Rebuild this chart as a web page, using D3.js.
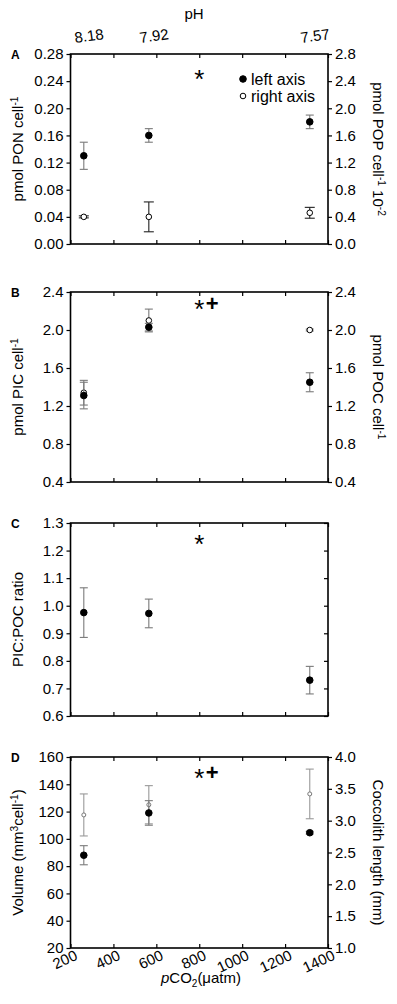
<!DOCTYPE html>
<html><head><meta charset="utf-8">
<script src="https://cdn.jsdelivr.net/npm/d3@7"></script>
<style>
html,body{margin:0;padding:0;background:#fff;}
svg{display:block;font-family:"Liberation Sans",Arial,sans-serif;}
</style></head>
<body>
<script>
// ---- data ----
const pco2 = [262, 565, 1315];
const phLabels = ["8.18", "7.92", "7.57"];
const xTicks = [200, 400, 600, 800, 1000, 1200, 1400];

const ponMean = [0.13, 0.16, 0.18];
const ponErr = [0.02, 0.01, 0.01];
const popMean = [0.40, 0.40, 0.46];
const popErr = [0.015, 0.22, 0.08];

const picMean = [1.31, 2.03, 1.45];
const picErr = [0.14, 0.04, 0.10];
const pocMean = [1.34, 2.10, 2.00];
const pocErr = [0.13, 0.12, 0.01];

const ratioMean = [0.975, 0.972, 0.73];
const ratioErr = [0.09, 0.052, 0.05];

const volumeMean = [88, 119, 104.5];
const volumeErr = [7, 9, 1];
const coccoMean = [3.09, 3.25, 3.42];
const coccoErr = [0.33, 0.30, 0.39];

const ticksA_L = [0, 0.04, 0.08, 0.12, 0.16, 0.20, 0.24, 0.28];
const ticksA_R = [0, 0.4, 0.8, 1.2, 1.6, 2.0, 2.4, 2.8];
const ticksB = [0.4, 0.8, 1.2, 1.6, 2.0, 2.4];
const ticksC = [0.6, 0.7, 0.8, 0.9, 1.0, 1.1, 1.2, 1.3];
const ticksD_L = [20, 40, 60, 80, 100, 120, 140, 160];
const ticksD_R = [1.0, 1.5, 2.0, 2.5, 3.0, 3.5, 4.0];

// ---- layout ----
const W = 397, H = 1004;
const X0 = 70.5, X1 = 328;
const svg = d3.select("body").append("svg").attr("width", W).attr("height", H);
const x = d3.scaleLinear().domain([200, 1400]).range([X0, X1]);

const panels = [
  {letter: "A", top: 54, bottom: 244, mark: ["*"], markOff: 19,
   left: {domain: [0, 0.28], ticks: ticksA_L, fmt: d3.format(".2f"), label: [["pmol PON cell", 0], ["-1", 1]]},
   right: {domain: [0, 2.8], ticks: ticksA_R, fmt: d3.format(".1f"), label: [["pmol POP cell", 0], ["-1", 1], [" 10", 0], ["-2", 1]]},
   series: [
     {mean: popMean, err: popErr, axis: "right", open: true, r: 2.8, errColor: "#222", cap: 5, stroke: "#000"},
     {mean: ponMean, err: ponErr, axis: "left", open: false, r: 3.3, errColor: "#7a7a7a", cap: 4}
   ]},
  {letter: "B", top: 292, bottom: 482, mark: ["*", "+"], markOff: 11,
   left: {domain: [0.4, 2.4], ticks: ticksB, fmt: d3.format(".1f"), label: [["pmol PIC cell", 0], ["-1", 1]]},
   right: {domain: [0.4, 2.4], ticks: ticksB, fmt: d3.format(".1f"), label: [["pmol POC cell", 0], ["-1", 1]]},
   series: [
     {mean: pocMean, err: pocErr, axis: "right", open: true, r: 2.8, errColor: "#7a7a7a", cap: 4, stroke: "#000"},
     {mean: picMean, err: picErr, axis: "left", open: false, r: 3.3, errColor: "#7a7a7a", cap: 4}
   ]},
  {letter: "C", top: 523, bottom: 716, mark: ["*"], markOff: 15,
   left: {domain: [0.6, 1.3], ticks: ticksC, fmt: d3.format(".1f"), label: [["PIC:POC ratio", 0]]},
   right: null,
   series: [
     {mean: ratioMean, err: ratioErr, axis: "left", open: false, r: 3.3, errColor: "#7a7a7a", cap: 4}
   ]},
  {letter: "D", top: 757, bottom: 948, mark: ["*", "+"], markOff: 15, bottomAxis: true,
   left: {domain: [20, 160], ticks: ticksD_L, fmt: d3.format("d"), label: [["Volume (mm", 0], ["3", 1], ["cell", 0], ["-1", 1], [")", 0]]},
   right: {domain: [1.0, 4.0], ticks: ticksD_R, fmt: d3.format(".1f"), label: [["Coccolith length (mm)", 0]]},
   series: [
     {mean: coccoMean, err: coccoErr, axis: "right", open: true, r: 2.0, errColor: "#999", cap: 4, stroke: "#777"},
     {mean: volumeMean, err: volumeErr, axis: "left", open: false, r: 3.3, errColor: "#7a7a7a", cap: 4}
   ]}
];

function addLabel(t, parts, size) {
  parts.forEach(([s, sup]) => {
    t.append("tspan").text(s)
      .attr("font-size", sup ? size * 0.68 : size)
      .attr("baseline-shift", sup ? "super" : null);
  });
}

panels.forEach(p => {
  const g = svg.append("g");
  const yL = d3.scaleLinear().domain(p.left.domain).range([p.bottom, p.top]);
  const yR = p.right ? d3.scaleLinear().domain(p.right.domain).range([p.bottom, p.top]) : null;

  g.append("g").attr("transform", `translate(${X0},0)`)
    .call(d3.axisLeft(yL).tickValues(p.left.ticks).tickFormat(p.left.fmt).tickSize(4).tickPadding(3));
  if (yR) {
    g.append("g").attr("transform", `translate(${X1},0)`)
      .call(d3.axisRight(yR).tickValues(p.right.ticks).tickFormat(p.right.fmt).tickSize(4).tickPadding(3));
  } else {
    g.append("g").attr("transform", `translate(${X1},0)`)
      .call(d3.axisLeft(yL).tickValues(p.left.ticks).tickFormat("").tickSize(4));
  }
  g.append("g").attr("transform", `translate(0,${p.bottom})`)
    .call(d3.axisTop(x).tickValues(xTicks).tickFormat("").tickSize(4));
  g.append("g").attr("transform", `translate(0,${p.top})`)
    .call(d3.axisBottom(x).tickValues(xTicks).tickFormat("").tickSize(4));

  g.selectAll(".domain").remove();
  g.selectAll(".tick line").attr("stroke", "#000").attr("stroke-width", 1.2);
  g.selectAll(".tick text").attr("font-size", 15).attr("fill", "#000")
    .attr("font-family", "'Liberation Sans',Arial,sans-serif");

  g.append("rect").attr("x", X0).attr("y", p.top).attr("width", X1 - X0).attr("height", p.bottom - p.top)
    .attr("fill", "none").attr("stroke", "#000").attr("stroke-width", 1.6);

  g.append("text").attr("x", 11).attr("y", p.top + 5).attr("font-size", 12).attr("font-weight", "bold").text(p.letter);

  const cy = (p.top + p.bottom) / 2;
  const tl = g.append("text").attr("text-anchor", "middle")
    .attr("transform", `translate(23,${cy}) rotate(-90)`);
  addLabel(tl, p.left.label, 15);
  if (p.right) {
    const tr = g.append("text").attr("text-anchor", "middle")
      .attr("transform", `translate(373,${cy}) rotate(90)`);
    addLabel(tr, p.right.label, 15);
  }

  const mx = x(800);
  const mc = p.top + p.markOff;
  g.append("text").attr("x", mx).attr("y", mc + 15).attr("text-anchor", "middle")
    .attr("font-size", 26).text(p.mark[0]);
  if (p.mark.length > 1) {
    g.append("text").attr("x", mx + 13).attr("y", mc + 7.5).attr("text-anchor", "middle")
      .attr("font-size", 22).attr("font-weight", "bold").text(p.mark[1]);
  }

  p.series.forEach(s => {
    const y = s.axis === "left" ? yL : yR;
    const pts = pco2.map((c, i) => ({x: x(c), m: s.mean[i], e: s.err[i]}));
    const eg = g.append("g").attr("stroke", s.errColor).attr("stroke-width", 1.1);
    eg.selectAll("line.v").data(pts).join("line")
      .attr("x1", d => d.x).attr("x2", d => d.x)
      .attr("y1", d => y(d.m - d.e)).attr("y2", d => y(d.m + d.e));
    eg.selectAll("line.t").data(pts).join("line")
      .attr("x1", d => d.x - s.cap).attr("x2", d => d.x + s.cap)
      .attr("y1", d => y(d.m + d.e)).attr("y2", d => y(d.m + d.e));
    eg.selectAll("line.b").data(pts).join("line")
      .attr("x1", d => d.x - s.cap).attr("x2", d => d.x + s.cap)
      .attr("y1", d => y(d.m - d.e)).attr("y2", d => y(d.m - d.e));
    g.append("g").selectAll("circle").data(pts).join("circle")
      .attr("cx", d => d.x).attr("cy", d => y(d.m)).attr("r", s.r)
      .attr("fill", s.open ? "#fff" : "#000")
      .attr("stroke", s.open ? s.stroke : "#000").attr("stroke-width", 1);
  });

  if (p.letter === "A") {
    const lg = g.append("g");
    lg.append("circle").attr("cx", 243).attr("cy", 79).attr("r", 3.3).attr("fill", "#000").attr("stroke", "#000");
    lg.append("text").attr("x", 251).attr("y", 84.5).attr("font-size", 16).text("left axis");
    lg.append("circle").attr("cx", 243).attr("cy", 96).attr("r", 2.8).attr("fill", "#fff").attr("stroke", "#000");
    lg.append("text").attr("x", 251).attr("y", 101.5).attr("font-size", 16).text("right axis");

    svg.append("text").attr("x", 194).attr("y", 19).attr("text-anchor", "middle").attr("font-size", 15).text("pH");
    svg.append("g").selectAll("text").data(pco2).join("text")
      .attr("transform", (d) => `translate(${x(d) + 6},${41}) rotate(-8)`)
      .attr("text-anchor", "middle").attr("font-size", 15)
      .text((d, i) => phLabels[i]);
  }

  if (p.bottomAxis) {
    svg.append("g").selectAll("text").data(xTicks).join("text")
      .attr("transform", d => `translate(${x(d) + 8},${p.bottom + 11}) rotate(-25)`)
      .attr("text-anchor", "end").attr("font-size", 15).text(d => d);
    const t = svg.append("text").attr("x", 201).attr("y", 983).attr("text-anchor", "middle").attr("font-size", 15);
    t.append("tspan").attr("font-style", "italic").text("p");
    t.append("tspan").text("CO");
    t.append("tspan").attr("font-size", 10).attr("dy", 4).text("2");
    t.append("tspan").attr("dy", -4).text("(\u03bcatm)");
  }
});
</script>
</body></html>
